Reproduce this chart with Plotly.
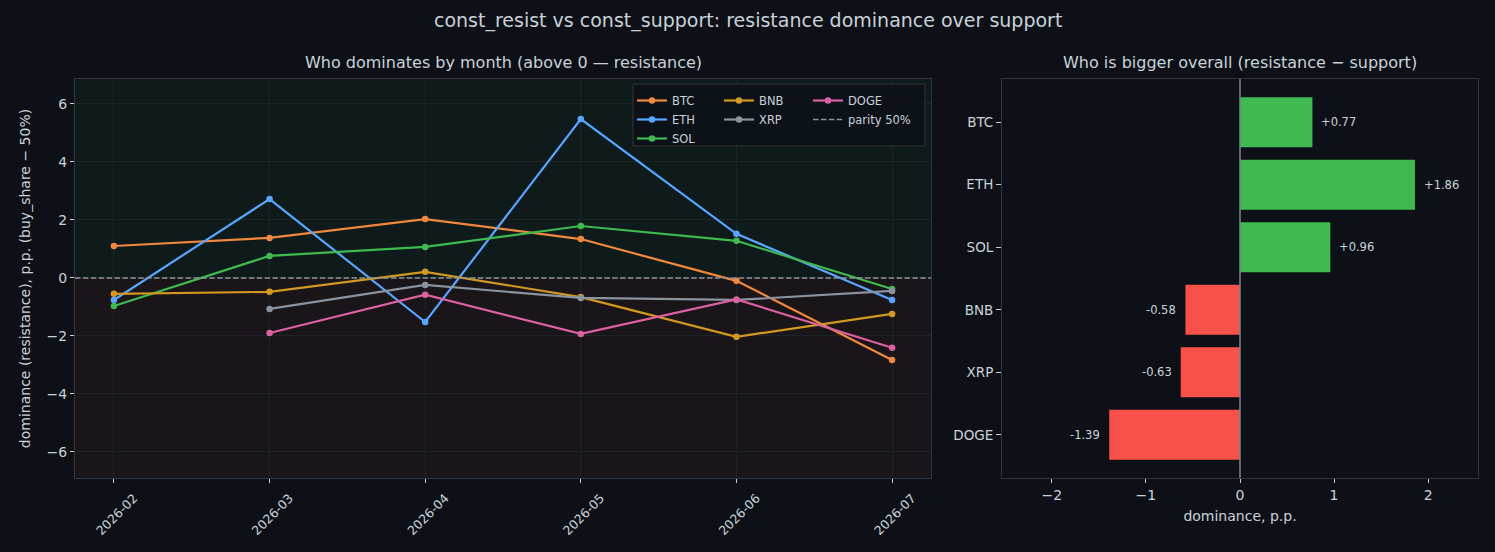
import plotly.graph_objects as go

W, H = 1495, 552

months = ["2026-02", "2026-03", "2026-04", "2026-05", "2026-06", "2026-07"]
btc = [1.10, 1.38, 2.03, 1.34, -0.10, -2.83]
eth = [-0.76, 2.72, -1.52, 5.48, 1.52, -0.76]
sol = [-0.97, 0.76, 1.07, 1.79, 1.28, -0.38]
bnb = [-0.55, -0.48, 0.21, -0.66, -2.03, -1.24]
xrp = [None, -1.07, -0.24, -0.69, -0.76, -0.45]
doge = [None, -1.90, -0.58, -1.93, -0.74, -2.41]

coins = ["BTC", "ETH", "SOL", "BNB", "XRP", "DOGE"]
overall = [0.77, 1.86, 0.96, -0.58, -0.63, -1.39]

colors = {"BTC": "#f0883e", "ETH": "#58a6ff", "SOL": "#3fb950",
          "BNB": "#d29922", "XRP": "#8b949e", "DOGE": "#db61a2"}
series = {"BTC": btc, "ETH": eth, "SOL": sol, "BNB": bnb, "XRP": xrp, "DOGE": doge}
legend_of = {"BTC": "legend", "ETH": "legend", "SOL": "legend",
             "BNB": "legend2", "XRP": "legend2", "DOGE": "legend3"}

BG = "#0d1117"
TXT = "#c9d1d9"
FONT = "DejaVu Sans"
DASH = "5.5px,2.4px"

def px_x(p):
    return p / W

def px_y(p):
    return 1 - p / H

fig = go.Figure()

for c in coins:
    fig.add_trace(go.Scatter(
        x=months, y=series[c], name=c, mode="lines+markers",
        line=dict(color=colors[c], width=2.2),
        marker=dict(size=6.5, color=colors[c]),
        xaxis="x", yaxis="y", legend=legend_of[c], connectgaps=False,
    ))

# legend-only entry for parity line
fig.add_trace(go.Scatter(
    x=[None], y=[None], name="parity 50%", mode="lines",
    line=dict(color="#8b949e", width=1.5, dash=DASH),
    xaxis="x", yaxis="y", legend="legend3",
))

bar_colors = ["#3fb950" if v >= 0 else "#f85149" for v in overall]
fig.add_trace(go.Bar(
    x=overall, y=coins, orientation="h", marker=dict(color=bar_colors, line=dict(width=0)),
    width=0.8, xaxis="x2", yaxis="y2", showlegend=False,
))

YMIN, YMAX = -6.9, 6.86

shapes = [
    dict(type="rect", xref="x domain", yref="y", x0=0, x1=1, y0=0, y1=YMAX,
         fillcolor="#0f1a1b", line=dict(width=0), layer="below"),
    dict(type="rect", xref="x domain", yref="y", x0=0, x1=1, y0=YMIN, y1=0,
         fillcolor="#1a1519", line=dict(width=0), layer="below"),
    dict(type="line", xref="x domain", yref="y", x0=0, x1=1, y0=0, y1=0,
         line=dict(color="#8b949e", width=1.5, dash=DASH), layer="above"),
    dict(type="line", xref="x2", yref="y2 domain", x0=0, x1=0, y0=0, y1=1,
         line=dict(color="#7d8590", width=1.5), layer="above"),
    # legend frame
    dict(type="rect", xref="paper", yref="paper",
         x0=px_x(633), x1=px_x(925), y0=px_y(146), y1=px_y(84),
         fillcolor="rgba(13,17,23,0.85)", line=dict(color="#30363d", width=1), layer="above"),
]

bar_annotations = []
for c, v in zip(coins, overall):
    bar_annotations.append(dict(
        x=v, y=c, xref="x2", yref="y2", text=f"{v:+.2f}", showarrow=False,
        xanchor="left" if v >= 0 else "right", yanchor="middle",
        xshift=7 if v >= 0 else -7, font=dict(size=11.5, color=TXT, family=FONT),
    ))

legend_common = dict(bgcolor="rgba(0,0,0,0)", borderwidth=0, xanchor="left", yanchor="top",
                     font=dict(size=11.5, color=TXT, family=FONT), tracegroupgap=0,
                     orientation="v", itemwidth=30)

axis_common = dict(showline=True, linecolor="#30363d", linewidth=1, mirror=True,
                   ticks="outside", ticklen=4, tickcolor=TXT,
                   tickfont=dict(size=14, color=TXT, family=FONT), zeroline=False)

fig.update_layout(
    width=W, height=H,
    paper_bgcolor=BG, plot_bgcolor=BG,
    margin=dict(l=0, r=0, t=0, b=0),
    font=dict(family=FONT, color=TXT),
    shapes=shapes,
    bargap=0.2,
    xaxis=dict(domain=[px_x(75), px_x(931)], type="category", range=[-0.25, 5.25],
               tickangle=-45, showgrid=True, gridcolor="#1c2426", gridwidth=1,
               ticklabelshift=20, ticklabelstandoff=3,
               anchor="y", **{**axis_common, "tickfont": dict(size=12.5, color=TXT, family=FONT)}),
    yaxis=dict(domain=[px_y(478), px_y(79)], range=[YMIN, YMAX], dtick=2,
               showgrid=True, gridcolor="#1c2426", gridwidth=1, anchor="x",
               title=dict(text="dominance (resistance), p.p. (buy_share − 50%)",
                          font=dict(size=14, color=TXT, family=FONT), standoff=12),
               **axis_common),
    xaxis2=dict(domain=[px_x(1002), px_x(1478)], range=[-2.53, 2.53], dtick=1,
                showgrid=False, anchor="y2",
                title=dict(text="dominance, p.p.", font=dict(size=14, color=TXT, family=FONT), standoff=9),
                **axis_common),
    yaxis2=dict(domain=[px_y(478), px_y(79)], type="category", range=[5.69, -0.69],
                showgrid=False, anchor="x2",
                **{**axis_common, "tickfont": dict(size=13.5, color=TXT, family=FONT), "ticklen": 5}),
    legend=dict(x=px_x(632), y=px_y(86), **legend_common),
    legend2=dict(x=px_x(719), y=px_y(86), **legend_common),
    legend3=dict(x=px_x(808), y=px_y(86), **legend_common),
    annotations=[
        dict(text="const_resist vs const_support: resistance dominance over support",
             xref="paper", yref="paper", x=0.5, y=px_y(20), xanchor="center", yanchor="middle",
             showarrow=False, font=dict(size=19, color=TXT, family=FONT)),
        dict(text="Who dominates by month (above 0 — resistance)",
             xref="paper", yref="paper", x=px_x(503), y=px_y(63), xanchor="center", yanchor="middle",
             showarrow=False, font=dict(size=16, color=TXT, family=FONT)),
        dict(text="Who is bigger overall (resistance − support)",
             xref="paper", yref="paper", x=px_x(1240), y=px_y(63), xanchor="center", yanchor="middle",
             showarrow=False, font=dict(size=16, color=TXT, family=FONT)),
    ] + bar_annotations,
)

fig.write_html("out.html")
